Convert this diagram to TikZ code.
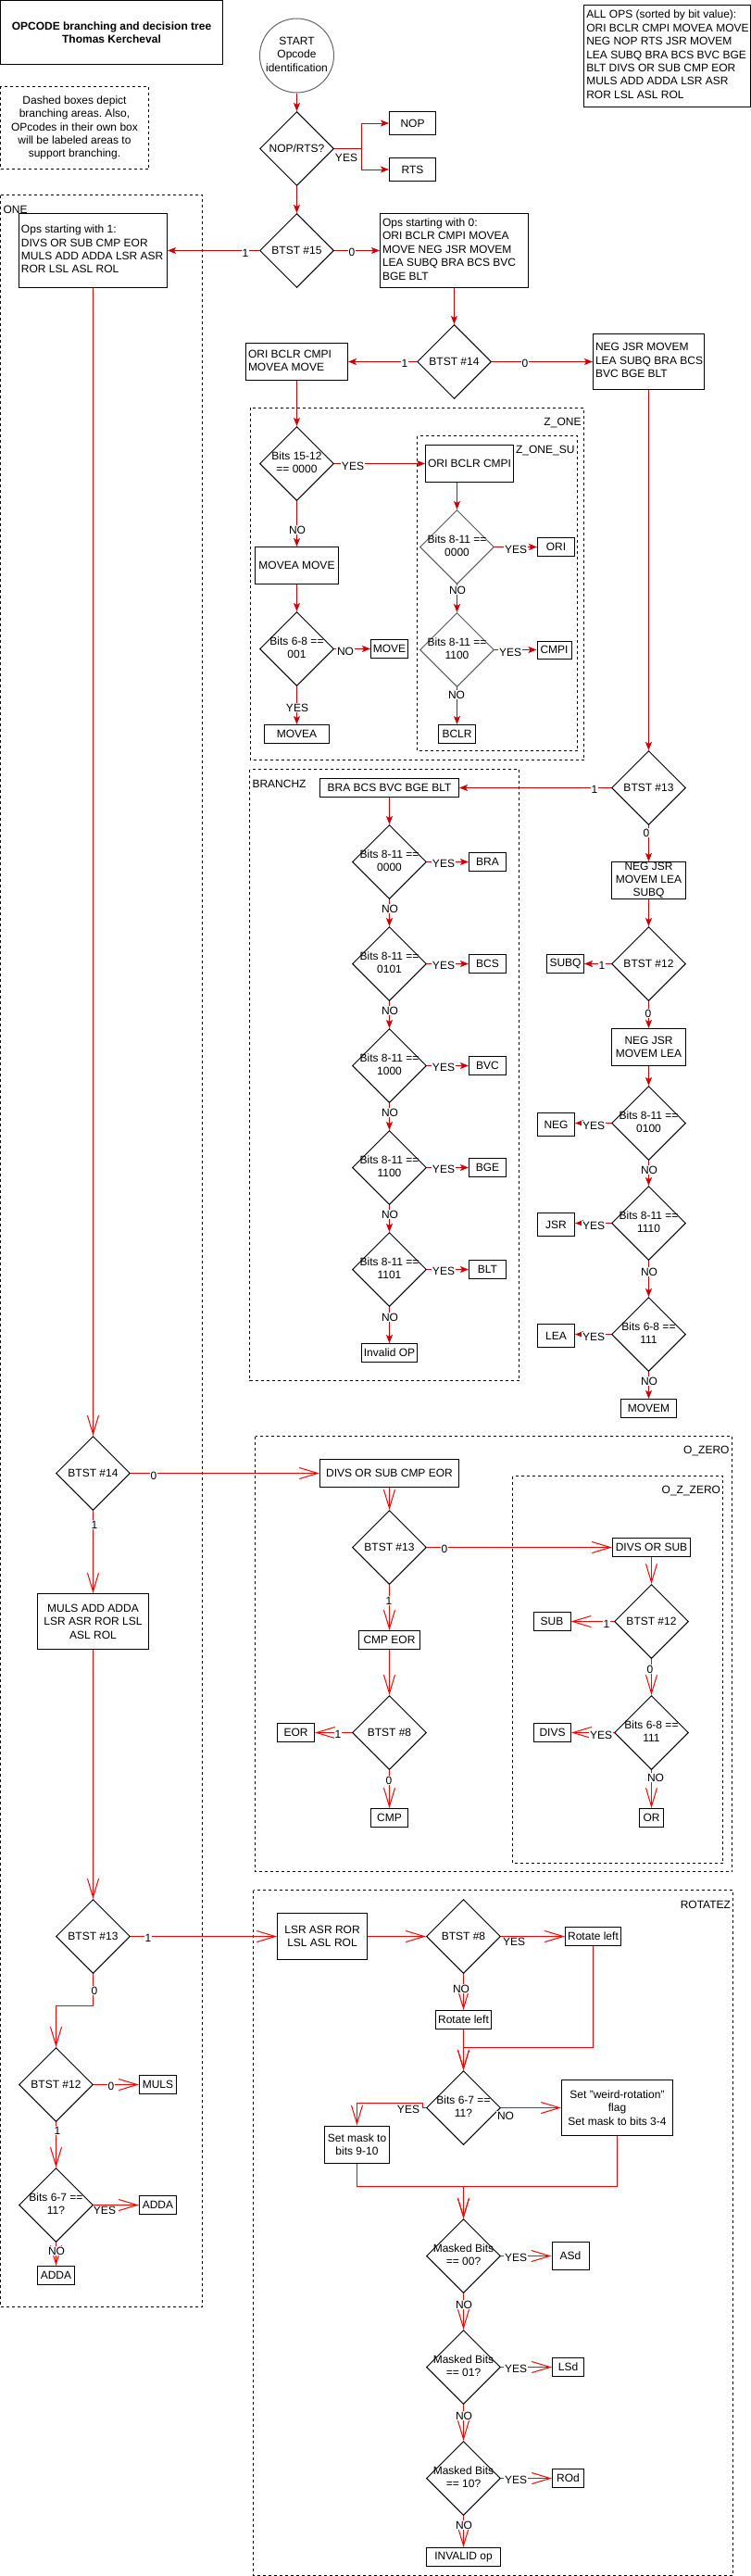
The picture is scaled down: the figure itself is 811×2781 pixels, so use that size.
\documentclass[tikz,border=0pt]{standalone}
\usepackage{fontspec}
\setmainfont{Liberation Sans}
\usetikzlibrary{shapes.geometric,arrows.meta}

\newcommand\dlines[1]{\makebox[0pt]{\begin{tabular}{@{}c@{}}#1\end{tabular}}}
\newcommand\leftlines[2]{\makebox[#1][l]{\begin{tabular}{@{}l@{}}#2\end{tabular}}}

\tikzset{
  box/.style={draw, fill=white, rectangle, inner sep=1pt, align=center},
  decision/.style={draw, fill=white, diamond, aspect=1, minimum width=80pt,
    minimum height=80pt, inner sep=0pt},
  zone/.style={draw, dash pattern=on 3pt off 3pt},
  zonetag/.style={inner sep=0pt},
  darr/.style={draw=darkedge, -{Stealth[length=9pt,width=7pt,inset=2pt]}},
  oarr/.style={draw=brightedge, -{Straight Barb[length=20pt,width=12pt]}},
  lbl/.style={fill=white, inner sep=0.6pt}
}

\begin{document}
\begin{tikzpicture}[x=1pt, y=-1pt, line width=1pt,
  font=\fontsize{12}{14.4}\selectfont\frenchspacing]

\definecolor{darkedge}{rgb}{0.8,0,0}
\definecolor{brightedge}{rgb}{1,0,0}

\useasboundingbox (0,0) rectangle (811,2781);

% dashed areas
\draw[zone] (0.5,210.5) rectangle (218.5,2490);
\node[zonetag, anchor=west] (onetag) at (3,226) {ONE};
\draw[zone] (270,440) rectangle (630.5,820.5);
\node[zonetag, anchor=east] (zonetag) at (628,456) {Z\_ONE};
\draw[zone] (450.5,470.5) rectangle (623.5,810.5);
\node[zonetag, anchor=east] (zonesutag) at (621,486) {Z\_ONE\_SU};
\draw[zone] (269.5,830.5) rectangle (560.5,1490.5);
\node[zonetag, anchor=west] (branchtag) at (272,846) {BRANCHZ};
\draw[zone] (275.5,1550.5) rectangle (790.5,2020.5);
\node[zonetag, anchor=east] (ozerotag) at (788,1566) {O\_ZERO};
\draw[zone] (553.5,1593.5) rectangle (780.5,2011.5);
\node[zonetag, anchor=east] (ozztag) at (778.5,1609) {O\_Z\_ZERO};
\draw[zone] (273.5,2040.5) rectangle (791.5,2780);
\node[zonetag, anchor=east] (rottag) at (789.5,2056) {ROTATEZ};

% header
\node[box, minimum width=240pt, minimum height=69pt,
  font=\fontsize{12}{14.4}\selectfont\bfseries] (title) at (120.5,35)
  {OPCODE branching and decision tree\\Thomas Kercheval};
\node[box, zone, minimum width=160pt, minimum height=89pt] (note) at (80.5,138)
  {Dashed boxes depict\\branching areas. Also,\\OPcodes in their own box\\will be labeled areas to\\support branching.};
\node[box, minimum width=179.5pt, minimum height=110pt, inner xsep=2.5pt] (allops) at (720.5,60.3)
  {\leftlines{174.5pt}{ALL OPS (sorted by bit value):\\ORI BCLR CMPI MOVEA MOVE\\NEG NOP RTS JSR MOVEM\\LEA SUBQ BRA BCS BVC BGE\\BLT DIVS OR SUB CMP EOR\\MULS ADD ADDA LSR ASR\\ROR LSL ASL ROL}};

% first tests
\node[circle, draw=black!60, fill=white, minimum size=80pt, inner sep=0pt] (start) at (320.5,60)
  {\dlines{START\\Opcode\\identification}};
\node[decision] (nrts) at (320.5,160.5) {NOP/RTS?};
\node[box, minimum width=50pt, minimum height=25pt] (nop) at (445.5,133) {NOP};
\node[box, minimum width=50pt, minimum height=25pt] (rts) at (445.5,183) {RTS};
\node[decision] (b15) at (320.5,270.5) {BTST \#15};
\node[box, minimum width=160pt, minimum height=80pt, inner xsep=2.5pt] (ones) at (100.5,270.5)
  {\leftlines{155pt}{Ops starting with 1:\\DIVS OR SUB CMP EOR\\MULS ADD ADDA LSR ASR\\ROR LSL ASL ROL}};
\node[box, minimum width=160pt, minimum height=80pt, inner xsep=2.5pt] (zeros) at (490.5,270.5)
  {\leftlines{155pt}{Ops starting with 0:\\ORI BCLR CMPI MOVEA\\MOVE NEG JSR MOVEM\\LEA SUBQ BRA BCS BVC\\BGE BLT}};
\node[decision] (b14r) at (490.5,390.5) {BTST \#14};
\node[box, minimum width=110pt, minimum height=40pt, inner xsep=2.5pt] (zonebox) at (320.5,390.5)
  {\leftlines{105pt}{ORI BCLR CMPI\\MOVEA MOVE}};
\node[box, minimum width=120pt, minimum height=60pt, inner xsep=2.5pt] (negbox) at (700.5,390.5)
  {\leftlines{115pt}{NEG JSR MOVEM\\LEA SUBQ BRA BCS\\BVC BGE BLT}};

% Z_ONE
\node[decision] (b1512) at (320.5,500.5) {\dlines{Bits 15-12\\== 0000}};
\node[box, minimum width=90pt, minimum height=40pt] (movem2) at (320.5,610.5) {MOVEA MOVE};
\node[decision] (b68a) at (320.5,700.5) {\dlines{Bits 6-8 ==\\001}};
\node[box, minimum width=40pt, minimum height=20pt] (moveb) at (420.5,700.5) {MOVE};
\node[box, minimum width=70pt, minimum height=20pt] (moveab) at (320.5,792.5) {MOVEA};
\node[box, minimum width=95pt, minimum height=40pt] (oribclr) at (507,500.5) {ORI BCLR CMPI};
\node[decision, draw=black!65] (b811a) at (493.5,590.5) {\dlines{Bits 8-11 ==\\0000}};
\node[box, minimum width=40pt, minimum height=20pt] (orib) at (600.5,590.5) {ORI};
\node[decision, draw=black!65] (b811b) at (493.5,701.5) {\dlines{Bits 8-11 ==\\1100}};
\node[box, minimum width=37pt, minimum height=19pt] (cmpi) at (598.5,701.5) {CMPI};
\node[box, minimum width=40pt, minimum height=20pt] (bclr) at (493.5,792.5) {BCLR};

% BRANCHZ
\node[decision] (b13r) at (700.5,850.5) {BTST \#13};
\node[box, minimum width=150pt, minimum height=20pt] (bra5) at (420.5,850.5) {BRA BCS BVC BGE BLT};
\node[decision] (bz0) at (420.5,930.5) {\dlines{Bits 8-11 ==\\0000}};
\node[decision] (bz1) at (420.5,1040.5) {\dlines{Bits 8-11 ==\\0101}};
\node[decision] (bz2) at (420.5,1150.5) {\dlines{Bits 8-11 ==\\1000}};
\node[decision] (bz3) at (420.5,1260.5) {\dlines{Bits 8-11 ==\\1100}};
\node[decision] (bz4) at (420.5,1370.5) {\dlines{Bits 8-11 ==\\1101}};
\node[box, minimum width=40pt, minimum height=20pt] (bra) at (526.5,930.5) {BRA};
\node[box, minimum width=40pt, minimum height=20pt] (bcs) at (526.5,1040.5) {BCS};
\node[box, minimum width=40pt, minimum height=20pt] (bvc) at (526.5,1150.5) {BVC};
\node[box, minimum width=40pt, minimum height=20pt] (bge) at (526.5,1260.5) {BGE};
\node[box, minimum width=40pt, minimum height=20pt] (blt) at (526.5,1370.5) {BLT};
\node[box, minimum width=60pt, minimum height=20pt] (invalid) at (420.5,1460.5) {Invalid OP};

% right column
\node[box, minimum width=80pt, minimum height=40pt, inner ysep=0pt] (nj5) at (700.5,950.5) {NEG JSR\\MOVEM LEA\\SUBQ};
\node[decision] (b12r) at (700.5,1040.5) {BTST \#12};
\node[box, minimum width=40pt, minimum height=20pt] (subq) at (610.5,1040.5) {SUBQ};
\node[box, minimum width=80pt, minimum height=40pt] (nj4) at (700.5,1130.5) {NEG JSR\\MOVEM LEA};
\node[decision] (b0100) at (700.5,1212.5) {\dlines{Bits 8-11 ==\\0100}};
\node[box, minimum width=40pt, minimum height=25pt] (neg) at (600.5,1214) {NEG};
\node[decision] (b1110) at (700.5,1320.5) {\dlines{Bits 8-11 ==\\1110}};
\node[box, minimum width=40pt, minimum height=25pt] (jsr) at (600.5,1322) {JSR};
\node[decision] (b111) at (700.5,1440.5) {\dlines{Bits 6-8 ==\\111}};
\node[box, minimum width=40pt, minimum height=25pt] (lea) at (600.5,1442) {LEA};
\node[box, minimum width=60pt, minimum height=20pt] (movem) at (700.5,1520.5) {MOVEM};

% left column
\node[decision] (b14l) at (100.5,1590.5) {BTST \#14};
\node[box, minimum width=150pt, minimum height=30pt] (dosce) at (420.5,1590.5) {DIVS OR SUB CMP EOR};
\node[box, minimum width=120pt, minimum height=60pt] (mulsbox) at (100.5,1750.5) {MULS ADD ADDA\\LSR ASR ROR LSL\\ASL ROL};
\node[decision] (b13l) at (100.5,2090.5) {BTST \#13};
\node[box, minimum width=97pt, minimum height=50pt] (lsrbox) at (348,2090.5) {LSR ASR ROR\\LSL ASL ROL};
\node[decision] (b12l) at (60.5,2250.5) {BTST \#12};
\node[box, minimum width=40pt, minimum height=20pt] (muls) at (170.5,2250.5) {MULS};
\node[decision] (b67l) at (60.5,2380.5) {\dlines{Bits 6-7 ==\\11?}};
\node[box, minimum width=40pt, minimum height=20pt] (adda1) at (170.5,2380.5) {ADDA};
\node[box, minimum width=40pt, minimum height=20pt] (adda2) at (60.5,2456.5) {ADDA};

% O_ZERO
\node[decision] (b13o) at (420.5,1670.5) {BTST \#13};
\node[box, minimum width=84pt, minimum height=20pt] (dos) at (703.5,1670.5) {DIVS OR SUB};
\node[box, minimum width=66pt, minimum height=20pt] (cmpeor) at (420.5,1770.5) {CMP EOR};
\node[decision] (b8o) at (420.5,1870.5) {BTST \#8};
\node[box, minimum width=40pt, minimum height=20pt] (eor) at (319.5,1870.5) {EOR};
\node[box, minimum width=40pt, minimum height=20pt] (cmp) at (420.5,1962.5) {CMP};
\node[decision] (b12o) at (703.5,1750.5) {BTST \#12};
\node[box, minimum width=40pt, minimum height=20pt] (sub) at (596,1750.5) {SUB};
\node[decision] (b68o) at (703.5,1870.5) {\dlines{Bits 6-8 ==\\111}};
\node[box, minimum width=40pt, minimum height=20pt] (divs) at (596.5,1870.5) {DIVS};
\node[box, minimum width=26pt, minimum height=20pt] (orbox) at (703.5,1962.5) {OR};

% ROTATEZ
\node[decision] (b8r) at (500.5,2090.5) {BTST \#8};
\node[box, minimum width=60pt, minimum height=20pt] (rotl1) at (640.5,2090.5) {Rotate left};
\node[box, minimum width=60pt, minimum height=20pt] (rotl2) at (500.5,2180.5) {Rotate left};
\node[decision] (b67r) at (500.5,2275.5) {\dlines{Bits 6-7 ==\\11?}};
\node[box, minimum width=120pt, minimum height=60pt] (weird) at (666.5,2275.5) {Set "weird-rotation"\\flag\\Set mask to bits 3-4};
\node[box, minimum width=70pt, minimum height=40pt] (mask910) at (385.5,2315) {Set mask to\\bits 9-10};
\node[decision] (m00) at (500.5,2435.5) {\dlines{Masked Bits\\== 00?}};
\node[box, minimum width=40pt, minimum height=30pt] (asd) at (616,2435.5) {ASd};
\node[decision] (m01) at (500.5,2555.5) {\dlines{Masked Bits\\== 01?}};
\node[box, minimum width=34pt, minimum height=20pt] (lsd) at (613.5,2555.5) {LSd};
\node[decision] (m10) at (500.5,2675.5) {\dlines{Masked Bits\\== 10?}};
\node[box, minimum width=34pt, minimum height=20pt] (rod) at (613.5,2675.5) {ROd};
\node[box, minimum width=80pt, minimum height=20pt] (invop) at (500.5,2760.5) {INVALID op};

% upper connectors
\coordinate (nrtsfork) at (390,160.5);
\draw[darr] (start) -- (nrts);
\draw[darr] (nrts.east) -- (nrtsfork) |- (nop.west);
\draw[darr] (nrts.east) -- (nrtsfork) |- (rts.west) node[lbl] (tnrts) at (374,170) {YES};
\draw[darr] (nrts) -- (b15);
\draw[darr] (b15.west) -- (ones.east) node[lbl] (tb15a) at (265,273.5) {1};
\draw[darr] (b15.east) -- (zeros.west) node[lbl] (tb15b) at (380,272.5) {0};
\draw[darr] (zeros) -- (b14r);
\draw[darr] (b14r.west) -- (zonebox.east) node[lbl] (tb14a) at (437,392) {1};
\draw[darr] (b14r.east) -- (negbox.west) node[lbl] (tb14b) at (567,392) {0};
\draw[darr] (zonebox) -- (b1512);
\draw[darr] (b1512.east) -- (oribclr.west) node[lbl] (tzo1) at (381,503) {YES};
\draw[darr] (b1512) -- (movem2) node[lbl] (tzo2) at (321,572) {NO};
\draw[darr] (movem2) -- (b68a);
\draw[darr] (b68a.east) -- (moveb.west) node[lbl] (tzo3) at (373,703) {NO};
\draw[darr] (b68a) -- (moveab) node[lbl] (tzo4) at (321,764) {YES};
\draw[darr] (oribclr.south -| b811a) -- (b811a.north);
\draw[darr] (b811a.east) -- (orib.west) node[lbl] (tsu1) at (557,593) {YES};
\draw[darr] (b811a) -- (b811b) node[lbl] (tsu2) at (494,637) {NO};
\draw[darr] (b811b.east) -- (b811b.east -| cmpi.west) node[lbl] (tsu3) at (551,704) {YES};
\draw[darr] (b811b) -- (bclr) node[lbl] (tsu4) at (493,750) {NO};

% BRANCHZ connectors
\draw[darr] (negbox) -- (b13r);
\draw[darr] (b13r.west) -- (bra5.east) node[lbl] (tb13a) at (642,852) {1};
\draw[darr] (bra5) -- (bz0);
\draw[darr] (bz0.east) -- (bra.west) node[lbl] (tbz0) at (479,932.5) {YES};
\draw[darr] (bz0) -- (bz1) node[lbl] (tnz0) at (421,981) {NO};
\draw[darr] (bz1.east) -- (bcs.west) node[lbl] (tbz1) at (479,1042.5) {YES};
\draw[darr] (bz1) -- (bz2) node[lbl] (tnz1) at (421,1091) {NO};
\draw[darr] (bz2.east) -- (bvc.west) node[lbl] (tbz2) at (479,1152.5) {YES};
\draw[darr] (bz2) -- (bz3) node[lbl] (tnz2) at (421,1201) {NO};
\draw[darr] (bz3.east) -- (bge.west) node[lbl] (tbz3) at (479,1262.5) {YES};
\draw[darr] (bz3) -- (bz4) node[lbl] (tnz3) at (421,1311) {NO};
\draw[darr] (bz4.east) -- (blt.west) node[lbl] (tbz4) at (479,1372.5) {YES};
\draw[darr] (bz4) -- (invalid) node[lbl] (tnz4) at (421,1422) {NO};

% right column connectors
\draw[darr] (b13r) -- (nj5) node[lbl] (tb13b) at (698,899) {0};
\draw[darr] (nj5) -- (b12r);
\draw[darr] (b12r.west) -- (subq.east) node[lbl] (tb12a) at (650,1042) {1};
\draw[darr] (b12r) -- (nj4) node[lbl] (tb12b) at (700,1094) {0};
\draw[darr] (nj4) -- (b0100);
\draw[darr] (b0100.west) -- (b0100.west -| neg.east) node[lbl] (tn1) at (641,1215) {YES};
\draw[darr] (b0100) -- (b1110) node[lbl] (tn2) at (701,1263) {NO};
\draw[darr] (b1110.west) -- (b1110.west -| jsr.east) node[lbl] (tn3) at (641,1323) {YES};
\draw[darr] (b1110) -- (b111) node[lbl] (tn4) at (701,1373) {NO};
\draw[darr] (b111.west) -- (b111.west -| lea.east) node[lbl] (tn5) at (641,1443) {YES};
\draw[darr] (b111) -- (movem) node[lbl] (tn6) at (701,1491) {NO};

% left column connectors
\coordinate (lbend) at (100.5,2165);
\draw[oarr] (ones) -- (b14l);
\draw[oarr] (b14l.east) -- (dosce.west) node[lbl] (tl1) at (166,1593) {0};
\draw[oarr] (b14l) -- (mulsbox) node[lbl] (tl2) at (102,1646) {1};
\draw[oarr] (mulsbox) -- (b13l);
\draw[oarr] (b13l.east) -- (lsrbox.west) node[lbl] (tl3) at (160,2092) {1};
\draw[oarr] (b13l.south) -- (lbend) -| (b12l.north) node[lbl] (tl4) at (102,2149) {0};
\draw[oarr] (b12l.east) -- (muls.west) node[lbl] (tl5) at (120,2252) {0};
\draw[oarr] (b12l) -- (b67l) node[lbl] (tl6) at (62,2300) {1};
\draw[oarr] (b67l.east) -- (adda1.west) node[lbl] (tl7) at (113,2386) {YES};
\draw[oarr] (b67l) -- (adda2) node[lbl] (tl8) at (61,2430) {NO};

% O_ZERO connectors
\draw[oarr] (dosce) -- (b13o);
\draw[oarr] (b13o.east) -- (dos.west) node[lbl] (to1) at (480,1672) {0};
\draw[oarr] (b13o) -- (cmpeor) node[lbl] (to2) at (420,1728) {1};
\draw[oarr] (cmpeor) -- (b8o);
\draw[oarr] (b8o.west) -- (eor.east) node[lbl] (to3) at (365,1872) {1};
\draw[oarr] (b8o) -- (cmp) node[lbl] (to4) at (420,1922) {0};
\draw[oarr] (dos) -- (b12o);
\draw[oarr] (b12o.west) -- (sub.east) node[lbl] (to5) at (655,1753) {1};
\draw[oarr] (b12o) -- (b68o) node[lbl] (to6) at (702,1802) {0};
\draw[oarr] (b68o.west) -- (divs.east) node[lbl] (to7) at (649,1873) {YES};
\draw[oarr] (b68o) -- (orbox) node[lbl] (to8) at (708,1919) {NO};

% ROTATEZ connectors
\coordinate (rjoin) at (500.5,2210.5);
\coordinate (yjog) at (456,2270.5);
\coordinate (mjoin) at (500.5,2360);
\draw[oarr] (lsrbox.east) -- (b8r.west);
\draw[oarr] (b8r.east) -- (rotl1.west) node[lbl] (tr1) at (555,2096) {YES};
\draw[oarr] (b8r) -- (rotl2) node[lbl] (tr2) at (498,2147) {NO};
\draw[oarr] (rotl2) -- (b67r);
\draw[oarr] (rotl1.south) |- (rjoin) -- (b67r.north);
\draw[oarr] (b67r.east) -- (weird.west) node[lbl] (tr3) at (546,2284) {NO};
\draw[oarr] (b67r.west) -- (b67r.west -| yjog) -- (yjog) -| (mask910.north) node[lbl] (tr4) at (441,2277) {YES};
\draw[oarr] (mask910.south) |- (mjoin) -- (m00.north);
\draw[oarr] (weird.south) |- (mjoin) -- (m00.north);
\draw[oarr] (m00.east) -- (asd.west) node[lbl] (tm1) at (557,2437) {YES};
\draw[oarr] (m00) -- (m01) node[lbl] (tm2) at (501,2488) {NO};
\draw[oarr] (m01.east) -- (lsd.west) node[lbl] (tm3) at (557,2557) {YES};
\draw[oarr] (m01) -- (m10) node[lbl] (tm4) at (501,2608) {NO};
\draw[oarr] (m10.east) -- (rod.west) node[lbl] (tm5) at (557,2677) {YES};
\draw[oarr] (m10) -- (invop) node[lbl] (tm6) at (501,2726) {NO};

\end{tikzpicture}
\end{document}
